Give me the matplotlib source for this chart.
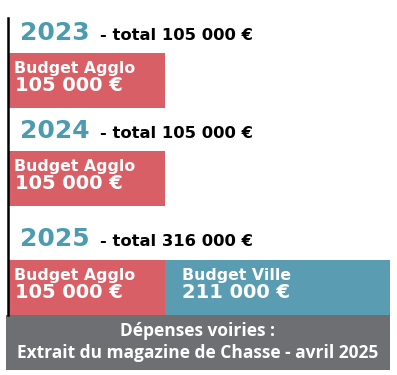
import matplotlib
matplotlib.use("Agg")
import matplotlib.pyplot as plt

# data
years = ["2023", "2024", "2025"]
totals = ["105 000 €", "105 000 €", "316 000 €"]
agglo = ["105 000 €", "105 000 €", "105 000 €"]
ville = [None, None, "211 000 €"]
footer = ["Dépenses voiries :", "Extrait du magazine de Chasse - avril 2025"]

RED = "#d95f66"
BLUE = "#5a9db3"
TEAL = "#4b9bb1"
GRAY = "#6e6f73"

fig = plt.figure(figsize=(3.97, 3.75), dpi=100)
ax = fig.add_axes([0, 0, 1, 1])
ax.set_xlim(0, 397)
ax.set_ylim(375, 0)
ax.axis("off")

title_y = [40, 138, 246]
bar_top = [53, 151, 260]
bar_h = 55

ax.plot([7.5, 7.5], [18, 315], color="black", lw=1.8)

for i, yr in enumerate(years):
    ax.text(20, title_y[i], yr, color=TEAL, fontsize=18, fontweight="bold",
            family="DejaVu Sans", va="baseline")
    ax.text(100, title_y[i], "- total " + totals[i], color="black", fontsize=11.8,
            fontweight="bold", family="DejaVu Sans", va="baseline")
    ax.barh(bar_top[i], 157, left=8, height=bar_h, align="edge", color=RED)
    ax.text(14, bar_top[i] + 20, "Budget Agglo", color="white", fontsize=11.3,
            fontweight="bold", family="DejaVu Sans", va="baseline")
    ax.text(15, bar_top[i] + 38, agglo[i], color="white", fontsize=14,
            fontweight="bold", family="DejaVu Sans", va="baseline")
    if ville[i]:
        ax.barh(bar_top[i], 225, left=165, height=bar_h, align="edge", color=BLUE)
        ax.text(182, bar_top[i] + 20, "Budget Ville", color="white", fontsize=11.3,
                fontweight="bold", family="DejaVu Sans", va="baseline")
        ax.text(182, bar_top[i] + 38, ville[i], color="white", fontsize=14,
                fontweight="bold", family="DejaVu Sans", va="baseline")

ax.barh(315, 384, left=6, height=55, align="edge", color=GRAY)
ax.text(198, 331, footer[0], color="white", fontsize=12.5, fontweight="bold",
        family="Open Sans", ha="center", va="center")
ax.text(198, 353, footer[1], color="white", fontsize=12.5, fontweight="bold",
        family="Open Sans", ha="center", va="center")

fig.savefig("out.png", dpi=100)
